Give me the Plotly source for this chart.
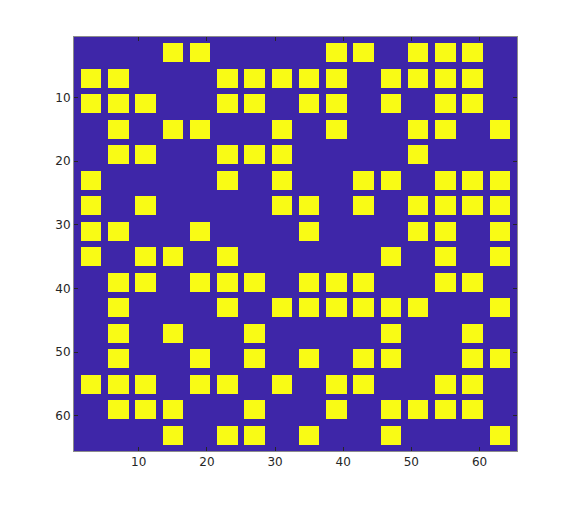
"""motif binaire en blocs, affiche a la maniere d'imagesc"""
import plotly.graph_objects as go

# colonnes (1..16) allumees pour chaque ligne de blocs (1..16), de haut en bas
row_1 = [4, 5, 10, 11, 13, 14, 15]
row_2 = [1, 2, 6, 7, 8, 9, 10, 12, 13, 14, 15]
row_3 = [1, 2, 3, 6, 7, 9, 10, 12, 14, 15]
row_4 = [2, 4, 5, 8, 10, 13, 14, 16]
row_5 = [2, 3, 6, 7, 8, 13]
row_6 = [1, 6, 8, 11, 12, 14, 15, 16]
row_7 = [1, 3, 8, 9, 11, 13, 14, 15, 16]
row_8 = [1, 2, 5, 9, 13, 14, 16]
row_9 = [1, 3, 4, 6, 12, 14, 16]
row_10 = [2, 3, 5, 6, 7, 9, 10, 11, 14, 15]
row_11 = [2, 6, 8, 9, 10, 11, 12, 13, 16]
row_12 = [2, 4, 7, 12, 15]
row_13 = [2, 5, 7, 9, 11, 12, 15, 16]
row_14 = [1, 2, 3, 5, 6, 8, 10, 11, 14, 15]
row_15 = [2, 3, 4, 7, 10, 12, 13, 14, 15]
row_16 = [4, 6, 7, 9, 12, 16]

block_rows = [row_1, row_2, row_3, row_4, row_5, row_6, row_7, row_8,
              row_9, row_10, row_11, row_12, row_13, row_14, row_15, row_16]

N = 65          # taille de l'image
x_ticks = [10, 20, 30, 40, 50, 60]
y_ticks = [10, 20, 30, 40, 50, 60]


def build_image(rows):
    """chaque bloc = 3x3 pixels, pas de 4, premier bloc en (2..4)"""
    img = [[0] * N for _ in range(N)]
    for i, cols in enumerate(rows):
        r0 = 1 + 4 * i
        for c in cols:
            c0 = 1 + 4 * (c - 1)
            for r in range(r0, r0 + 3):
                for k in range(c0, c0 + 3):
                    img[r][k] = 1
    return img


z = build_image(block_rows)
pix = list(range(1, N + 1))

fig = go.Figure(go.Heatmap(
    x=pix, y=pix, z=z,
    colorscale=[[0, "#3E26A8"], [1, "#F9FB15"]],
    showscale=False, hoverinfo="skip",
))

axis_style = dict(
    showgrid=False, zeroline=False,
    showline=True, linecolor="#8c8c8c", linewidth=1, mirror="ticks",
    ticks="inside", ticklen=4, tickcolor="#262626", tickwidth=1,
    tickfont=dict(family="DejaVu Sans", size=12, color="#262626"),
)

# la page ajoute 8 px de marge autour du graphique
fig.update_layout(
    width=571, height=507,
    margin=dict(l=66, r=62, t=29, b=64),
    paper_bgcolor="white", plot_bgcolor="white",
    xaxis=dict(range=[0.5, N + 0.5], tickvals=x_ticks, **axis_style),
    yaxis=dict(range=[N + 0.5, 0.5], tickvals=y_ticks, **axis_style),
)

fig.write_html("out.html")
